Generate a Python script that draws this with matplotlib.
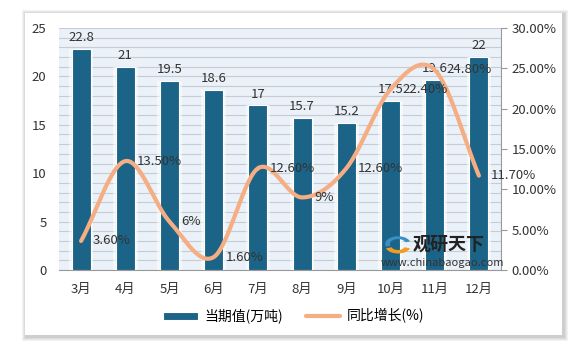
import numpy as np
import matplotlib.pyplot as plt
from matplotlib.patches import Rectangle, Wedge

plt.rcParams['font.family'] = ['Noto Sans CJK SC', 'DejaVu Sans']

months = ["3月", "4月", "5月", "6月", "7月", "8月", "9月", "10月", "11月", "12月"]
output = [22.8, 21, 19.5, 18.6, 17, 15.7, 15.2, 17.5, 19.6, 22]
growth = [3.6, 13.5, 6, 1.6, 12.6, 9, 12.6, 22.4, 24.8, 11.7]
growth_labels = ["3.60%", "13.50%", "6%", "1.60%", "12.60%", "9%", "12.60%", "22.40%", "24.80%", "11.70%"]


def catmull_rom(x, y, n=30):
    # smooth curve through the points, like Excel's smoothed line
    x = np.asarray(x, float)
    y = np.asarray(y, float)
    px = np.concatenate([[2 * x[0] - x[1]], x, [2 * x[-1] - x[-2]]])
    py = np.concatenate([[2 * y[0] - y[1]], y, [2 * y[-1] - y[-2]]])
    xs, ys = [], []
    t = np.linspace(0, 1, n)
    for i in range(1, len(px) - 2):
        p0, p1, p2, p3 = px[i - 1], px[i], px[i + 1], px[i + 2]
        q0, q1, q2, q3 = py[i - 1], py[i], py[i + 1], py[i + 2]
        xs.append(0.5 * (2 * p1 + (-p0 + p2) * t + (2 * p0 - 5 * p1 + 4 * p2 - p3) * t**2 + (-p0 + 3 * p1 - 3 * p2 + p3) * t**3))
        ys.append(0.5 * (2 * q1 + (-q0 + q2) * t + (2 * q0 - 5 * q1 + 4 * q2 - q3) * t**2 + (-q0 + 3 * q1 - 3 * q2 + q3) * t**3))
    return np.concatenate(xs), np.concatenate(ys)


fig = plt.figure(figsize=(5.82, 3.52), dpi=100)
fig.patch.set_facecolor("white")

# card with soft shadow
for i, a in enumerate([0.10, 0.10, 0.12, 0.15]):
    d = 4 - i
    fig.patches.append(Rectangle(((26 - d) / 582, (15 - d) / 352), (538 + 2 * d) / 582, (323 + 2 * d) / 352,
                                 transform=fig.transFigure, facecolor="#888888", alpha=a,
                                 edgecolor="none", zorder=-2))
fig.patches.append(Rectangle((25 / 582, 17 / 352), 537 / 582, 322 / 352, transform=fig.transFigure,
                             facecolor="white", edgecolor="none", zorder=-1))

ax = fig.add_axes([59 / 582, 82 / 352, 442 / 582, 242 / 352])
ax.set_facecolor("#eaf1f8")
x = np.arange(len(months))

# faint glow behind the bars
ax.bar(x, output, width=0.56, color="#ffffff", alpha=0.55, zorder=2)
ax.bar(x, output, width=0.43, color="#1b6487", edgecolor="white", linewidth=0.8,
       zorder=3, label="当期值(万吨)")
for xi, v in zip(x, output):
    ax.text(xi, v + 0.5, f"{v:g}", ha="center", va="bottom", fontsize=9.5, color="#333333", zorder=5)

ax.set_ylim(0, 25)
ax.set_xlim(-0.5, len(months) - 0.5)
ax.set_yticks(range(0, 26, 5))
ax.set_yticks(range(0, 26, 1), minor=True)
ax.grid(axis="y", which="both", color="#c6ccd2", linewidth=0.8, zorder=0)
ax.set_axisbelow(True)
ax.set_xticks(x)
ax.set_xticklabels(months, fontsize=9.5, color="#333333")
ax.tick_params(axis="x", length=0, pad=9)
ax.tick_params(axis="y", which="both", length=0, labelsize=9.5, labelcolor="#333333", pad=9)
for s in ["top", "left", "right"]:
    ax.spines[s].set_visible(False)
ax.spines["bottom"].set_color("#999999")

ax2 = ax.twinx()
sx, sy = catmull_rom(x, growth)
ax2.plot(sx, sy, color="#f5ae84", linewidth=3, solid_capstyle="round", zorder=4, label="同比增长(%)")
for xi, v, lab in zip(x, growth, growth_labels):
    ax2.text(xi + 0.27, v, lab, ha="left", va="center", fontsize=9.5, color="#333333", zorder=5)
ax2.set_ylim(0, 30)
ax2.set_yticks(range(0, 31, 5))
ax2.set_yticklabels([f"{v:.2f}%" for v in range(0, 31, 5)])
ax2.tick_params(axis="y", length=4, color="#999999", labelsize=9.5, labelcolor="#333333")
for s in ["top", "left", "bottom"]:
    ax2.spines[s].set_visible(False)
ax2.spines["right"].set_color("#999999")

# watermark
lx, ly = 398 / 582, 1 - 244 / 352
fig.patches.append(Wedge((lx, ly), 0.022, 20, 200, width=0.008, transform=fig.transFigure,
                         facecolor="#3a8fc4", edgecolor="none", zorder=6))
fig.patches.append(Wedge((lx, ly - 0.005), 0.022, 200, 340, width=0.010, transform=fig.transFigure,
                         facecolor="#f39c1f", edgecolor="none", zorder=6))
fig.text(413 / 582, 1 - 244 / 352, "观研天下", fontsize=13, fontweight="bold", color="#222222",
         ha="left", va="center", zorder=6)
fig.text(381 / 582, 1 - 263 / 352, "www.chinabaogao.com", fontsize=8, color="#333333",
         ha="left", va="center", zorder=6)

h1, l1 = ax.get_legend_handles_labels()
h2, l2 = ax2.get_legend_handles_labels()
fig.legend(h1 + h2, l1 + l2, loc="center", bbox_to_anchor=(0.505, 0.102), ncol=2,
           fontsize=10, frameon=True, fancybox=False, edgecolor="white", columnspacing=1.6,
           handlelength=2.5, handleheight=0.5, handletextpad=0.5)

fig.savefig("out.png", dpi=100)
